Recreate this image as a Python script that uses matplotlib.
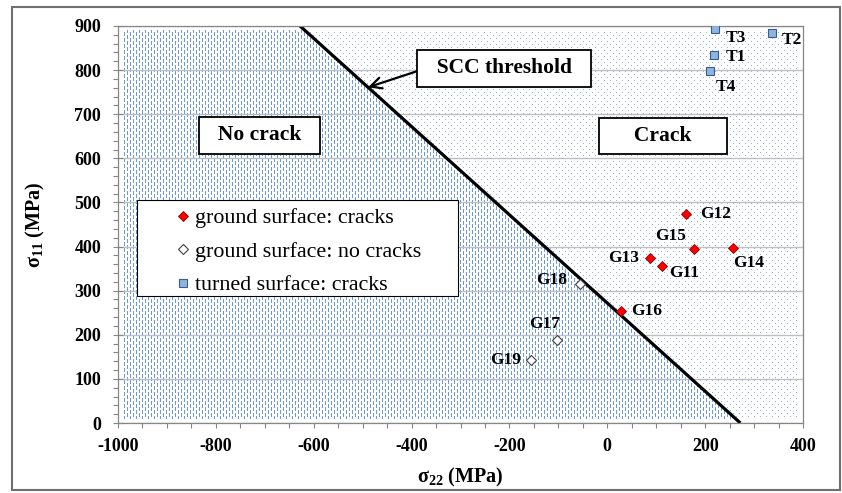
import numpy as np
import matplotlib
matplotlib.use('Agg')
import matplotlib.pyplot as plt
from matplotlib.patches import Polygon, Rectangle
from matplotlib.ticker import MultipleLocator
from matplotlib.colors import to_rgba

plt.rcParams['font.family'] = ['Liberation Serif', 'DejaVu Serif']
plt.rcParams['font.weight'] = 'bold'
plt.rcParams['mathtext.default'] = 'regular'
plt.rcParams['axes.unicode_minus'] = False

# --- values (MPa) ---
threshold_s22 = [-628, 272]
threshold_s11 = [900, 0]

ground_crack_labels = ['G11', 'G12', 'G13', 'G14', 'G15', 'G16']
ground_crack_s22 = [112, 160, 87, 256, 177, 28]
ground_crack_s11 = [355, 474, 373, 397, 395, 254]

ground_ok_labels = ['G17', 'G18', 'G19']
ground_ok_s22 = [-103, -55, -155]
ground_ok_s11 = [188, 316, 142]

turned_labels = ['T1', 'T2', 'T3', 'T4']
turned_s22 = [219, 337, 221, 209]
turned_s11 = [834, 884, 893, 799]

# label offsets in pixels (dx right, dy down) and alignment
label_offsets = {
    'G11': (7, 7, 'left'), 'G12': (15, 0, 'left'), 'G13': (-11, 0, 'right'),
    'G14': (1, 15, 'left'), 'G15': (-23, -13, 'center'), 'G16': (10, 0, 'left'),
    'G17': (-12, -16, 'center'), 'G18': (-13, -4, 'right'), 'G19': (-10, 0, 'right'),
    'T1': (11, 2, 'left'), 'T2': (10, 7, 'left'), 'T3': (10, 9, 'left'),
    'T4': (6, 16, 'left'),
}

XMIN, XMAX, YMIN, YMAX = -1000, 400, 0, 900
GRAY = '#868686'


def texture(h, w, kind, color):
    """Small pixel pattern like the Excel pattern fills."""
    img = np.zeros((h, w, 4))
    r, c = np.mgrid[0:h, 0:w]
    if kind == 'dash':
        phase = (r + ((c // 3) % 2) * 3) % 6
        on = (c % 3 == 0) & (phase < 4)
    else:
        on = ((r % 6 == 0) & (c % 6 == 0)) | ((r % 6 == 3) & (c % 6 == 3))
    m = 4
    on[:m, :] = False
    on[-m:, :] = False
    on[:, :m] = False
    on[:, -m:] = False
    img[on] = to_rgba(color)
    return img


fig = plt.figure(figsize=(8.42, 4.93), dpi=100)
ax = fig.add_axes([118 / 842, 1 - 423 / 493, 685 / 842, 397 / 493])
ax.set_xlim(XMIN, XMAX)
ax.set_ylim(YMIN, YMAX)

# outer frame
fig.patches.append(Rectangle((12 / 842, 3 / 493), 828 / 842, 483 / 493,
                             transform=fig.transFigure, fill=False,
                             edgecolor='#6f6f6f', lw=1.5))

# pattern fills on both sides of the threshold
H, W = 397, 685
left_poly = Polygon([(XMIN, YMIN), (XMIN, YMAX),
                     (threshold_s22[0], threshold_s11[0]),
                     (threshold_s22[1], threshold_s11[1])],
                    closed=True, transform=ax.transData)
right_poly = Polygon([(threshold_s22[0], threshold_s11[0]), (XMAX, YMAX),
                      (XMAX, YMIN), (threshold_s22[1], threshold_s11[1])],
                     closed=True, transform=ax.transData)
im1 = ax.imshow(texture(H, W, 'dash', '#6a9bd6'), extent=(XMIN, XMAX, YMIN, YMAX),
                aspect='auto', interpolation='nearest', zorder=0)
im1.set_clip_path(left_poly)
im2 = ax.imshow(texture(H, W, 'dot', '#8fb2e0'), extent=(XMIN, XMAX, YMIN, YMAX),
                aspect='auto', interpolation='nearest', zorder=0)
im2.set_clip_path(right_poly)

ax.yaxis.grid(True, color='#bfbfbf', lw=1.0)
ax.set_axisbelow('line')

ax.plot(threshold_s22, threshold_s11, color='black', lw=2.3, zorder=2,
        solid_capstyle='butt')

ax.plot(ground_crack_s22, ground_crack_s11, 'D', ms=5.2, mfc='#ff0000',
        mec='#8b0000', mew=0.6, ls='none', zorder=3, label='ground surface: cracks')
ax.plot(ground_ok_s22, ground_ok_s11, 'D', ms=4.8, mfc='white',
        mec='#404040', mew=0.8, ls='none', zorder=3, label='ground surface: no cracks')
ax.plot(turned_s22, turned_s11, 's', ms=6, mfc='#8db4e2',
        mec='#385d8a', mew=0.8, ls='none', zorder=3, label='turned surface: cracks')

for labels, xs, ys in [(ground_crack_labels, ground_crack_s22, ground_crack_s11),
                       (ground_ok_labels, ground_ok_s22, ground_ok_s11),
                       (turned_labels, turned_s22, turned_s11)]:
    for lab, x, y in zip(labels, xs, ys):
        dx, dy, ha = label_offsets[lab]
        ax.annotate(lab, (x, y), xytext=(dx * 0.72, -dy * 0.72),
                    textcoords='offset points', ha=ha, va='center',
                    fontsize=12.5, fontweight='bold', zorder=6)

box = dict(boxstyle='square,pad=0.38', fc='white', ec='black', lw=1.3)
ax.text(-711, 652, '  No crack  ', fontsize=15.5, ha='center', va='center',
        bbox=box, zorder=5)
ax.text(114, 651, '     Crack     ', fontsize=15.5, ha='center', va='center',
        bbox=box, zorder=5)
ax.annotate('  SCC threshold  ', xy=(-489, 761), xytext=(-211, 804),
            fontsize=15.5, ha='center', va='center', bbox=box, zorder=5,
            arrowprops=dict(arrowstyle='->', lw=1.6, color='black', relpos=(0, 0.5),
                            shrinkA=0, shrinkB=0, mutation_scale=20))

# legend with its own wide frame
ax.add_patch(Rectangle((19 / 685, 1 - 296 / 397 + 26 / 397), 321 / 685, 96 / 397,
                       transform=ax.transAxes, fc='white', ec='black', lw=0.8,
                       zorder=4))
ax.legend(loc='upper left', bbox_to_anchor=((174 - 118) / 685, 1 - (208 - 26) / 397),
          frameon=False, borderpad=0, borderaxespad=0, handlelength=0.8,
          handletextpad=0.15, labelspacing=0.6, numpoints=1,
          prop={'family': 'Liberation Serif', 'weight': 'normal', 'size': 15.8})

# axes styling
for sp in ax.spines.values():
    sp.set_color(GRAY)
    sp.set_linewidth(0.9)
ax.xaxis.set_major_locator(MultipleLocator(200))
ax.xaxis.set_minor_locator(MultipleLocator(50))
ax.yaxis.set_major_locator(MultipleLocator(100))
ax.yaxis.set_minor_locator(MultipleLocator(20))
ax.tick_params(axis='x', which='both', direction='out', length=3.6, width=0.8,
               color=GRAY, pad=7.0, labelsize=13)
ax.tick_params(axis='y', which='major', direction='inout', length=7.2, width=0.8,
               color=GRAY, pad=8.6, labelsize=13)
ax.tick_params(axis='y', which='minor', direction='out', length=3.6, width=0.8,
               color=GRAY)

ax.set_xlabel('σ$_{22}$ (MPa)', fontsize=14.5, fontweight='bold', labelpad=8)
ax.set_ylabel('σ$_{11}$ (MPa)', fontsize=14.5, fontweight='bold', labelpad=20)

fig.savefig('out.png', dpi=100)
